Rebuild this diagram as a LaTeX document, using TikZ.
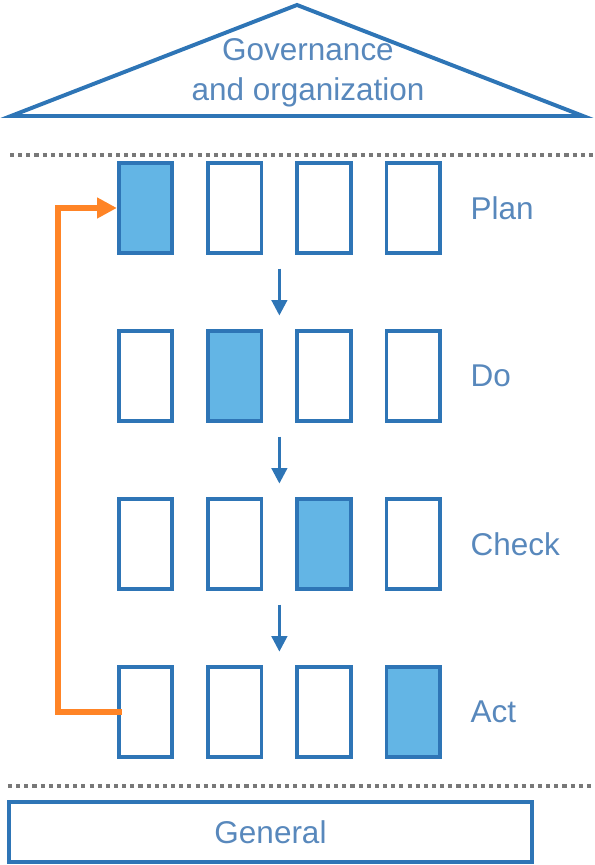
\documentclass[tikz,border=0pt]{standalone}
\usepackage{fontspec}
\setmainfont{Liberation Sans}
\usepackage{xcolor}
\usepackage{tikz}
\usetikzlibrary{positioning}
\usetikzlibrary{arrows.meta}
\usetikzlibrary{calc}

\definecolor{boxblue}{RGB}{46,117,182}
\definecolor{boxfill}{RGB}{99,181,229}
\definecolor{txtblue}{RGB}{88,136,188}
\definecolor{fbkorange}{RGB}{255,132,38}
\definecolor{sepgray}{RGB}{120,120,120}

\begin{document}
\begin{tikzpicture}[
  blk/.style = {draw=boxblue, line width=2.6pt, minimum width=1.34cm, minimum height=2.25cm, inner sep=0pt},
  cur/.style = {blk, fill=boxfill},
  lbl/.style = {text=txtblue, font=\fontsize{22.4}{28.4}\selectfont, inner sep=0pt, outer sep=0pt},
  sep/.style = {draw=sepgray, line width=2.5pt, dash pattern=on 2.9pt off 2.9pt},
  nxt/.style = {draw=boxblue, line width=2.1pt, -{Triangle[width=11pt,length=11pt]}},
  feedback/.style = {draw=fbkorange, line width=4.3pt, -{Triangle[width=14pt,length=14pt]}}
]
\useasboundingbox (0,0) rectangle (14.875,21.625);

% roof
\draw[boxblue, line width=2.8pt] (0.275,18.725) -- (7.425,21.5) -- (14.575,18.725) -- cycle;
\node[lbl, align=center] (gov) at (7.7,19.8) {Governance\\and organization};

\draw[sep] (0.25,17.75) -- (14.875,17.75);

% Plan
\node[cur] (p1) at (3.6375,16.425) {};
\node[blk] (p2) [right=0.8cm of p1] {};
\node[blk] (p3) [right=0.8cm of p2] {};
\node[blk] (p4) [right=0.8cm of p3] {};
\node[lbl] (plan) [right=0.72cm of p4] {Plan};

% Do
\node[blk] (d1) [below=1.86cm of p1] {};
\node[cur] (d2) [right=0.8cm of d1] {};
\node[blk] (d3) [right=0.8cm of d2] {};
\node[blk] (d4) [right=0.8cm of d3] {};
\node[lbl] (do) [right=0.72cm of d4] {Do};

% Check
\node[blk] (c1) [below=1.86cm of d1] {};
\node[blk] (c2) [right=0.8cm of c1] {};
\node[cur] (c3) [right=0.8cm of c2] {};
\node[blk] (c4) [right=0.8cm of c3] {};
\node[lbl] (check) [right=0.72cm of c4] {Check};

% Act
\node[blk] (a1) [below=1.86cm of c1] {};
\node[blk] (a2) [right=0.8cm of a1] {};
\node[blk] (a3) [right=0.8cm of a2] {};
\node[cur] (a4) [right=0.8cm of a3] {};
\node[lbl] (act) [right=0.72cm of a4] {Act};

% step arrows
\coordinate (m1) at ($(p2.south)!0.5!(d3.north)$);
\coordinate (m2) at ($(d2.south)!0.5!(c3.north)$);
\coordinate (m3) at ($(c2.south)!0.5!(a3.north)$);
\coordinate (s1) at ($(m1)+(0,0.5875)$);
\coordinate (e1) at ($(m1)-(0,0.5875)$);
\coordinate (s2) at ($(m2)+(0,0.5875)$);
\coordinate (e2) at ($(m2)-(0,0.5875)$);
\coordinate (s3) at ($(m3)+(0,0.5875)$);
\coordinate (e3) at ($(m3)-(0,0.5875)$);
\draw[nxt] (s1) -- (e1);
\draw[nxt] (s2) -- (e2);
\draw[nxt] (s3) -- (e3);

% back to plan
\draw[feedback] ($(a1.west)+(0.12,0)$) -- ++(-1.6,0) |- (p1.west);

\draw[sep] (0.2,1.975) -- (14.875,1.975);

\node[lbl, draw=boxblue, line width=2.8pt, minimum width=13.075cm, minimum height=1.5cm] (gen) at (6.7625,0.825) {General};
\end{tikzpicture}
\end{document}
